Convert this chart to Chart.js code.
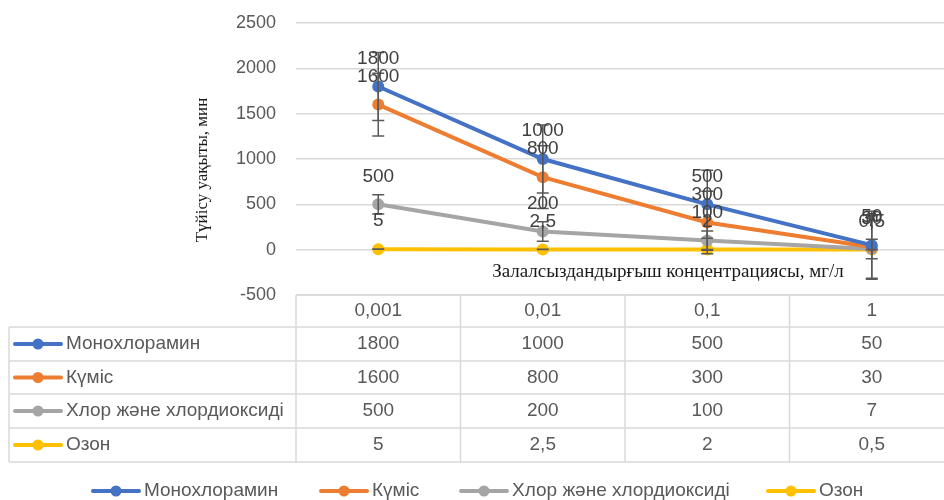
<!DOCTYPE html>
<html>
<head>
<meta charset="utf-8">
<script src="https://cdn.jsdelivr.net/npm/chart.js@4.4.1/dist/chart.umd.min.js"></script>
<style>
    html, body { margin: 0; padding: 0; background: #ffffff; overflow: hidden; }
    #wrap { width: 960px; height: 500px; }
</style>
</head>
<body>
<div id="wrap"><canvas id="grafico" width="960" height="500"></canvas></div>
<script>
const categorias = ['0,001', '0,01', '0,1', '1'];
const nomesSeries = ['Монохлорамин', 'Күміс', 'Хлор және хлордиоксиді', 'Озон'];
const monohloramin = [1800, 1000, 500, 50];
const kumis = [1600, 800, 300, 30];
const hlor = [500, 200, 100, 7];
const ozon = [5, 2.5, 2, 0.5];
// standard error bars, one amount per series
const erroSeries = [375, 345, 107, 1];
const ticksY = [-500, 0, 500, 1000, 1500, 2000, 2500];
const cores = ['#4472C4', '#ED7D31', '#A5A5A5', '#FFC000'];

const tituloY = 'Түйісу уақыты, мин';
const tituloX = 'Залалсыздандырғыш концентрациясы, мг/л';

const FONTE = '"Liberation Sans", Arial, sans-serif';
const FONTE_SERIF = '"Liberation Serif", "Times New Roman", serif';
const COR_GRADE = '#D9D9D9';
const COR_TEXTO = '#595959';

function formatarNumero(valor) {
    return String(valor).replace('.', ',');
}

function desenharChave(ctx, x, y, cor) {
    ctx.save();
    ctx.strokeStyle = cor;
    ctx.lineWidth = 4;
    ctx.lineCap = 'round';
    ctx.beginPath();
    ctx.moveTo(x, y);
    ctx.lineTo(x + 46, y);
    ctx.stroke();
    ctx.fillStyle = cor;
    ctx.beginPath();
    ctx.arc(x + 23, y, 5.5, 0, Math.PI * 2);
    ctx.fill();
    ctx.restore();
}

const pluginExtras = {
    id: 'extras',
    afterDatasetsDraw(chart) {
        const ctx = chart.ctx;
        const xs = chart.scales.x;
        const ys = chart.scales.y;

        // error bars
        ctx.save();
        ctx.strokeStyle = '#595959';
        ctx.lineWidth = 1.5;
        chart.data.datasets.forEach((ds, i) => {
            ds.data.forEach((v, j) => {
                const x = xs.getPixelForValue(j);
                const yTop = ys.getPixelForValue(v + erroSeries[i]);
                const yBot = ys.getPixelForValue(v - erroSeries[i]);
                ctx.beginPath();
                ctx.moveTo(x, yTop);
                ctx.lineTo(x, yBot);
                ctx.moveTo(x - 6, yTop);
                ctx.lineTo(x + 6, yTop);
                ctx.moveTo(x - 6, yBot);
                ctx.lineTo(x + 6, yBot);
                ctx.stroke();
            });
        });
        ctx.restore();

        // data labels
        ctx.save();
        ctx.font = '19px ' + FONTE;
        ctx.fillStyle = '#404040';
        ctx.textAlign = 'center';
        ctx.textBaseline = 'middle';
        chart.data.datasets.forEach((ds) => {
            ds.data.forEach((v, j) => {
                const x = xs.getPixelForValue(j);
                const y = ys.getPixelForValue(v);
                ctx.fillText(formatarNumero(v), x, y - 28);
            });
        });
        ctx.restore();
    },
    afterDraw(chart) {
        const ctx = chart.ctx;
        const xs = chart.scales.x;
        const area = chart.chartArea;

        // axis titles
        ctx.save();
        ctx.fillStyle = '#1a1a1a';
        ctx.textAlign = 'center';
        ctx.textBaseline = 'middle';
        ctx.font = '19px ' + FONTE_SERIF;
        ctx.fillText(tituloX, 668, 272);
        ctx.font = '17px ' + FONTE_SERIF;
        ctx.translate(203, 170);
        ctx.rotate(-Math.PI / 2);
        ctx.fillText(tituloY, 0, 0);
        ctx.restore();

        // data table
        const larguraCol = (area.right - area.left) / categorias.length;
        const topo = area.bottom;
        const linhas = [topo, topo + 32, topo + 66, topo + 99, topo + 133, topo + 167];
        const esquerda = 9;

        ctx.save();
        ctx.strokeStyle = COR_GRADE;
        ctx.lineWidth = 1.5;
        ctx.beginPath();
        linhas.forEach((y, i) => {
            ctx.moveTo(i === 0 ? area.left : esquerda, y);
            ctx.lineTo(area.right, y);
        });
        ctx.moveTo(esquerda, linhas[1]);
        ctx.lineTo(esquerda, linhas[5]);
        for (let c = 0; c <= categorias.length; c++) {
            const x = area.left + c * larguraCol;
            ctx.moveTo(x, linhas[0]);
            ctx.lineTo(x, linhas[5]);
        }
        ctx.stroke();

        ctx.font = '19px ' + FONTE;
        ctx.fillStyle = COR_TEXTO;
        ctx.textAlign = 'center';
        ctx.textBaseline = 'middle';
        categorias.forEach((cat, j) => {
            ctx.fillText(cat, xs.getPixelForValue(j), (linhas[0] + linhas[1]) / 2);
        });

        chart.data.datasets.forEach((ds, i) => {
            const yMeio = (linhas[i + 1] + linhas[i + 2]) / 2;
            desenharChave(ctx, 15, yMeio, cores[i]);
            ctx.fillStyle = COR_TEXTO;
            ctx.textAlign = 'left';
            ctx.fillText(nomesSeries[i], 66, yMeio);
            ctx.textAlign = 'center';
            ds.data.forEach((v, j) => {
                ctx.fillText(formatarNumero(v), xs.getPixelForValue(j), yMeio);
            });
        });

        // bottom legend
        const posLegenda = [93, 321, 461, 768];
        nomesSeries.forEach((nome, i) => {
            desenharChave(ctx, posLegenda[i], 491, cores[i]);
            ctx.fillStyle = COR_TEXTO;
            ctx.textAlign = 'left';
            ctx.fillText(nome, posLegenda[i] + 51, 491);
        });
        ctx.restore();
    }
};

const seriesDados = [monohloramin, kumis, hlor, ozon];

new Chart(document.getElementById('grafico'), {
    type: 'line',
    data: {
        labels: categorias,
        datasets: seriesDados.map((dados, i) => ({
            label: nomesSeries[i],
            data: dados,
            borderColor: cores[i],
            backgroundColor: cores[i],
            borderWidth: 4,
            pointRadius: 6,
            pointHoverRadius: 6,
            pointBorderWidth: 0,
            tension: 0
        }))
    },
    options: {
        responsive: false,
        animation: false,
        events: [],
        layout: { padding: { top: 23, right: 4, bottom: 205, left: 0 } },
        plugins: {
            legend: { display: false },
            tooltip: { enabled: false }
        },
        scales: {
            x: {
                display: false,
                offset: true
            },
            y: {
                min: ticksY[0],
                max: ticksY[ticksY.length - 1],
                afterFit: (s) => {
                    s.width = 296;
                    s.paddingTop = 0;
                    s.paddingBottom = 0;
                },
                afterBuildTicks: (s) => { s.ticks = ticksY.map((v) => ({ value: v })); },
                border: { display: false },
                grid: { color: COR_GRADE, lineWidth: 1.5, drawTicks: false },
                ticks: {
                    padding: 20,
                    color: COR_TEXTO,
                    font: { size: 18, family: FONTE },
                    callback: (v) => String(v)
                }
            }
        }
    },
    plugins: [pluginExtras]
});
</script>
</body>
</html>
